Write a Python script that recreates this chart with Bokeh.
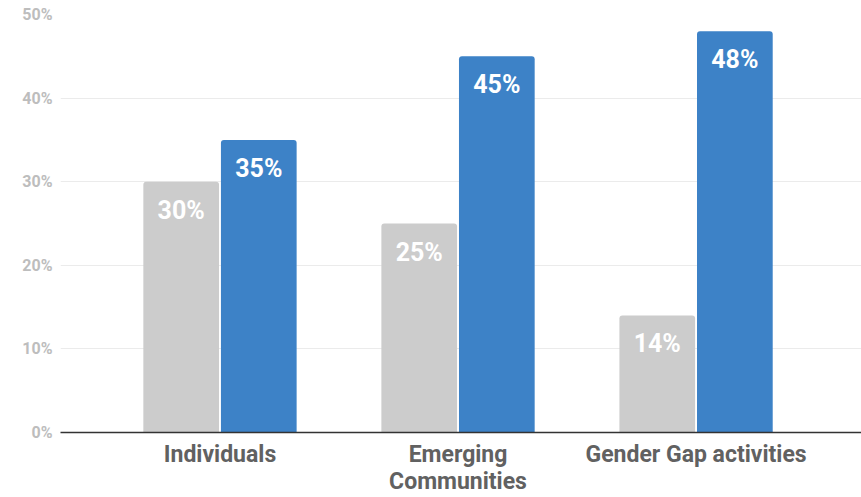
from bokeh.plotting import figure
from bokeh.models import ColumnDataSource, Range1d, FixedTicker
from bokeh.core.properties import value
from bokeh.embed import file_html
from bokeh.resources import INLINE

categories = ["Individuals", "Emerging\nCommunities", "Gender Gap activities"]
series_a = [30, 25, 14]   # gray
series_b = [35, 45, 48]   # blue
y_ticks = [0, 10, 20, 30, 40, 50]

xs = list(range(len(categories)))
off = 0.163
w = 0.318

src_a = ColumnDataSource(dict(x=[i - off for i in xs], top=series_a,
                              lbl=[f"{v}%" for v in series_a]))
src_b = ColumnDataSource(dict(x=[i + off for i in xs], top=series_b,
                              lbl=[f"{v}%" for v in series_b]))

p = figure(width=861, height=497, output_backend="svg", toolbar_location=None,
           x_range=Range1d(-0.67, 2.695), y_range=Range1d(0, 50),
           min_border_left=60, min_border_right=0, min_border_top=14,
           min_border_bottom=65)
p.outline_line_color = None
p.background_fill_color = "white"

p.vbar(x="x", top="top", width=w, bottom=0, source=src_a,
       fill_color="#cccccc", line_color=None, border_radius=(3, 3, 0, 0))
p.vbar(x="x", top="top", width=w, bottom=0, source=src_b,
       fill_color="#3d82c7", line_color=None, border_radius=(3, 3, 0, 0))

for src in (src_a, src_b):
    p.text(x="x", y="top", text="lbl", source=src, text_align="center",
           text_baseline="top", y_offset=14, text_color="white",
           text_font=value("Roboto"), text_font_style="bold",
           text_font_size="25px")

# x axis
p.xaxis.ticker = FixedTicker(ticks=xs)
p.xaxis.major_label_overrides = {i: c for i, c in enumerate(categories)}
p.xaxis.major_label_text_font = "Roboto"
p.xaxis.major_label_text_font_style = "bold"
p.xaxis.major_label_text_font_size = "23px"
p.xaxis.major_label_text_line_height = 1.0
p.xaxis.major_label_text_color = "#616161"
p.xaxis.major_label_standoff = 8
p.xaxis.major_tick_line_color = None
p.xaxis.major_tick_out = 0
p.xaxis.minor_tick_line_color = None
p.xaxis.axis_line_color = "#333333"
p.xaxis.axis_line_width = 1.5
p.xgrid.grid_line_color = None

# y axis
p.yaxis.ticker = FixedTicker(ticks=y_ticks)
p.yaxis.major_label_overrides = {t: f"{t}%" for t in y_ticks}
p.yaxis.major_label_text_font = "Roboto"
p.yaxis.major_label_text_font_style = "bold"
p.yaxis.major_label_text_font_size = "16px"
p.yaxis.major_label_text_color = "#bdbdbd"
p.yaxis.axis_line_color = None
p.yaxis.major_tick_line_color = None
p.yaxis.major_tick_out = 0
p.yaxis.minor_tick_line_color = None
p.yaxis.major_label_standoff = 8
p.ygrid.grid_line_color = "#ebebeb"

open("out.html", "w").write(file_html(p, INLINE))
